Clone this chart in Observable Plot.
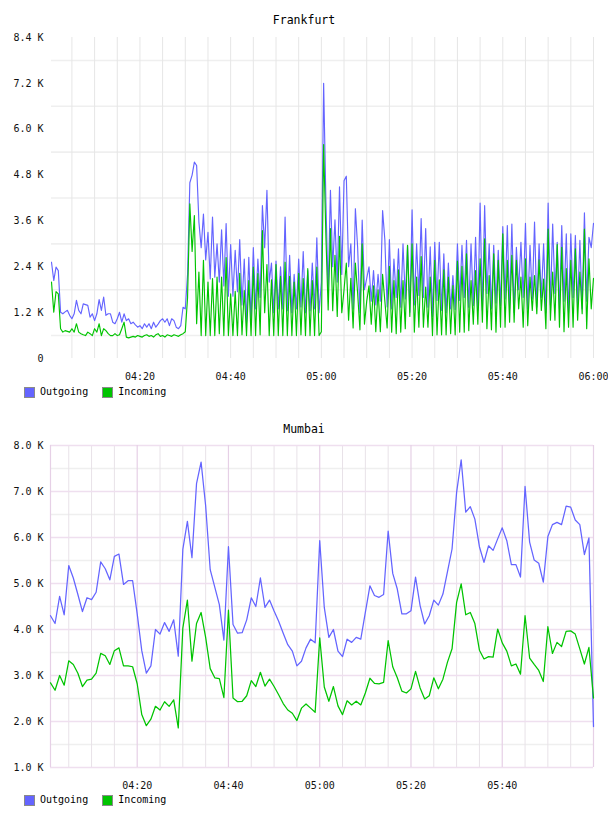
<!DOCTYPE html>
<html>
<head>
<meta charset="utf-8">
<script src="https://cdn.jsdelivr.net/npm/d3@7"></script>
<script src="https://cdn.jsdelivr.net/npm/@observablehq/plot@0.6"></script>
<style>
  html, body { margin: 0; padding: 0; background: #fff; }
  body { position: relative; width: 608px; height: 816px; overflow: hidden;
         font-family: "DejaVu Sans Mono", monospace; color: #000; }
  .title { position: absolute; left: 0; width: 608px; text-align: center;
           font-size: 11.5px; line-height: 14px; }
  .chart { position: absolute; left: 0; }
  .legend { position: absolute; left: 24px; font-size: 10px; line-height: 12px;
            display: flex; align-items: center; }
  .legend .sw { display: inline-block; width: 9px; height: 9px; border: 1px solid #8a8a8a;
                margin-right: 5px; }
  .legend .item { display: inline-flex; align-items: center; margin-right: 14px; }
</style>
</head>
<body>
<div class="title" style="top:13px">Frankfurt</div>
<div class="chart" id="frankfurt" style="top:30px"></div>
<div class="legend" style="top:386px"><span class="item"><span class="sw" style="background:#6464ff"></span>Outgoing</span><span class="item"><span class="sw" style="background:#00c400"></span>Incoming</span></div>

<div class="title" style="top:422px">Mumbai</div>
<div class="chart" id="mumbai" style="top:438px"></div>
<div class="legend" style="top:794px"><span class="item"><span class="sw" style="background:#6464ff"></span>Outgoing</span><span class="item"><span class="sw" style="background:#00c400"></span>Incoming</span></div>

<script>
// Traffic in K, sampled every 30 s from 04:00:30 (Frankfurt) and every 60 s from 04:01 (Mumbai).
const frankfurtStart = [4, 0, 30];
const frankfurtStepSeconds = 30;
const frankfurtOutgoing = [
  2.52, 2.04, 2.39, 2.30, 1.21, 1.17, 1.22, 1.26, 1.13, 1.04,
  1.17, 1.52, 1.26, 1.17, 1.43, 1.41, 1.39, 1.08, 1.17, 0.99,
  1.17, 1.54, 1.26, 1.61, 1.13, 1.17, 1.17, 0.95, 0.91, 1.04,
  1.21, 0.95, 1.17, 0.99, 1.04, 0.91, 0.95, 0.88, 0.82, 0.86,
  0.78, 0.91, 0.82, 0.91, 0.78, 0.95, 0.82, 0.90, 0.99, 1.04,
  0.95, 1.04, 0.86, 1.04, 0.99, 0.82, 0.78, 0.86, 1.34, 1.30,
  2.2, 4.6, 4.8, 5.14, 5.05, 3.57, 2.9, 3.78, 2.58, 3.3,
  2.08, 3.7, 2.13, 3.0, 2.0, 3.37, 1.9, 3.53, 1.63, 2.98,
  1.63, 2.83, 1.75, 3.11, 1.4, 2.6, 0.95, 2.65, 1.0, 2.9,
  1.3, 2.6, 1.6, 4.0, 2.9, 4.4, 2.0, 2.5, 1.2, 2.55,
  1.3, 2.4, 1.3, 3.7, 1.25, 2.7, 1.2, 2.2, 1.3, 2.6,
  1.35, 2.8, 1.2, 2.3, 1.25, 2.5, 1.3, 3.16, 1.2, 2.0,
  7.2, 4.1, 1.73, 4.4, 2.4, 3.63, 2.0, 4.49, 2.2, 4.65,
  4.77, 2.4, 3.0, 1.3, 3.92, 2.9, 1.2, 3.62, 1.8, 2.1,
  2.4, 1.5, 2.3, 1.4, 2.2, 1.5, 3.87, 3.1, 1.35, 3.11,
  1.3, 2.6, 1.6, 2.87, 1.34, 3.0, 1.56, 2.96, 1.21, 3.89,
  1.4, 3.0, 1.65, 3.66, 1.6, 3.4, 1.34, 2.92, 1.1, 3.04,
  1.52, 3.04, 1.26, 2.74, 1.2, 2.5, 1.3, 2.17, 1.28, 3.0,
  1.52, 2.96, 1.6, 3.09, 1.34, 3.0, 1.39, 3.17, 1.26, 4.07,
  1.26, 4.0, 1.7, 3.0, 1.3, 2.96, 1.45, 2.83, 1.39, 3.45,
  1.56, 3.48, 1.3, 3.52, 1.2, 2.91, 1.8, 3.04, 1.6, 3.54,
  1.3, 2.96, 1.56, 3.57, 1.35, 3.0, 1.6, 3.0, 1.2, 4.07,
  1.4, 3.52, 1.7, 3.04, 1.3, 3.48, 1.5, 3.26, 1.2, 3.26,
  1.6, 3.22, 1.4, 3.09, 1.3, 3.81, 1.5, 3.17, 2.9, 3.54
];
const frankfurtIncoming = [
  2.0, 1.21, 1.75, 1.69, 0.78, 0.69, 0.73, 0.71, 0.69, 0.78,
  0.69, 0.91, 0.69, 0.65, 0.62, 0.60, 0.69, 0.65, 0.60, 0.78,
  0.69, 0.91, 0.60, 0.78, 0.73, 0.65, 0.60, 0.60, 0.65, 0.60,
  0.62, 0.78, 0.95, 0.56, 0.54, 0.56, 0.58, 0.56, 0.60, 0.58,
  0.56, 0.60, 0.62, 0.58, 0.60, 0.56, 0.62, 0.65, 0.58, 0.60,
  0.56, 0.62, 0.60, 0.58, 0.62, 0.60, 0.58, 0.62, 0.65, 0.70,
  1.6, 4.05, 2.8, 3.74, 0.91, 2.26, 0.6, 2.57, 0.6, 2.0,
  0.6, 2.09, 0.6, 2.13, 0.65, 2.13, 0.6, 2.64, 0.6, 1.69,
  0.6, 1.76, 0.6, 2.23, 0.62, 1.78, 0.6, 2.04, 0.6, 2.39,
  0.6, 2.22, 0.62, 3.35, 1.2, 2.46, 0.6, 2.06, 0.6, 2.46,
  0.6, 2.15, 0.6, 2.52, 0.6, 2.15, 0.6, 2.0, 0.6, 2.23,
  0.62, 2.09, 0.6, 2.35, 0.6, 2.04, 0.6, 2.39, 0.6, 0.7,
  5.6, 3.2, 1.27, 3.4, 1.25, 2.7, 1.1, 3.2, 1.2, 1.8,
  2.5, 1.0, 2.1, 0.8, 2.5, 1.7, 0.75, 3.0, 0.9, 1.5,
  1.9, 0.9, 1.9, 0.7, 1.8, 0.7, 2.2, 1.5, 0.8, 2.41,
  0.69, 2.04, 0.65, 2.32, 0.69, 2.04, 0.78, 2.96, 1.1, 3.0,
  0.69, 2.13, 0.82, 2.67, 0.82, 1.87, 0.82, 2.13, 0.6, 2.57,
  0.62, 2.06, 0.62, 2.32, 0.62, 2.13, 0.65, 1.91, 0.62, 2.55,
  0.69, 2.41, 0.69, 2.74, 0.73, 2.04, 0.9, 2.3, 0.9, 2.61,
  0.95, 3.13, 0.78, 2.17, 0.75, 2.74, 0.69, 2.57, 0.82, 3.26,
  0.82, 2.57, 0.95, 2.7, 0.95, 2.57, 1.3, 2.13, 0.82, 2.61,
  0.86, 2.13, 1.26, 2.17, 1.17, 2.58, 1.26, 2.08, 0.78, 3.39,
  1.0, 2.26, 1.0, 2.98, 0.82, 2.91, 0.7, 2.35, 0.82, 2.57,
  0.82, 2.87, 1.0, 2.26, 1.17, 3.39, 0.78, 2.61, 1.3, 2.1
];

const mumbaiStart = [4, 1, 0];
const mumbaiStepSeconds = 60;
const mumbaiOutgoing = [
  4.30, 4.13, 4.72, 4.32, 5.39, 5.12, 4.76, 4.39, 4.69, 4.65,
  4.81, 5.47, 5.32, 5.08, 5.59, 5.64, 4.98, 5.06, 5.06, 4.34,
  3.54, 3.05, 3.21, 4.00, 3.90, 4.15, 3.96, 4.21, 3.42, 5.74,
  6.35, 5.56, 7.17, 7.64, 6.69, 5.30, 4.92, 4.54, 3.77, 5.80,
  4.11, 3.92, 3.93, 4.21, 4.69, 4.50, 5.12, 4.48, 4.64, 4.40,
  4.18, 3.92, 3.67, 3.53, 3.21, 3.31, 3.60, 3.79, 3.71, 5.93,
  4.48, 3.83, 4.00, 3.53, 3.41, 3.79, 3.72, 3.83, 3.79, 4.37,
  4.95, 4.74, 4.70, 4.76, 6.14, 5.22, 4.88, 4.34, 4.34, 4.41,
  5.14, 4.52, 4.12, 4.30, 4.64, 4.53, 4.77, 5.26, 5.75, 6.98,
  7.69, 6.55, 6.67, 6.40, 5.80, 5.46, 5.82, 5.72, 5.97, 6.21,
  5.93, 5.41, 5.41, 5.14, 7.11, 5.90, 5.51, 5.44, 5.03, 6.02,
  6.28, 6.33, 6.28, 6.68, 6.66, 6.38, 6.28, 5.63, 5.99, 1.89
];
const mumbaiIncoming = [
  2.84, 2.68, 3.00, 2.79, 3.32, 3.24, 3.05, 2.76, 2.90, 2.92,
  3.05, 3.48, 3.43, 3.24, 3.54, 3.60, 3.21, 3.21, 3.19, 2.82,
  2.15, 1.91, 2.05, 2.33, 2.25, 2.43, 2.33, 2.47, 1.86, 4.03,
  4.64, 3.31, 4.13, 4.37, 3.83, 3.15, 2.95, 2.93, 2.52, 4.42,
  2.51, 2.43, 2.44, 2.56, 2.89, 2.76, 3.07, 2.77, 2.92, 2.76,
  2.58, 2.39, 2.25, 2.18, 2.02, 2.29, 2.38, 2.29, 2.20, 3.82,
  2.75, 2.44, 2.76, 2.34, 2.15, 2.45, 2.36, 2.44, 2.36, 2.62,
  2.94, 2.83, 2.82, 2.85, 3.76, 3.19, 2.95, 2.66, 2.62, 2.71,
  3.09, 2.73, 2.49, 2.56, 2.95, 2.71, 2.92, 3.29, 3.58, 4.59,
  4.99, 4.32, 4.37, 4.13, 3.55, 3.36, 3.41, 3.40, 4.01, 3.71,
  3.53, 3.21, 3.25, 3.03, 4.30, 3.38, 3.24, 3.11, 2.87, 4.06,
  3.48, 3.72, 3.63, 3.96, 3.97, 3.90, 3.58, 3.25, 3.61, 2.51
];

const endTime = [6, 0, 0];
const frankfurtTimeLabels = ["04:20", "04:40", "05:00", "05:20", "05:40", "06:00"];
const mumbaiTimeLabels = ["04:20", "04:40", "05:00", "05:20", "05:40"];
const frankfurtYTicks = [0, 1.2, 2.4, 3.6, 4.8, 6.0, 7.2, 8.4];
const frankfurtYGrid = [0.6, 1.8, 3.0, 4.2, 5.4, 6.6, 7.8];
const mumbaiYTicks = [1, 2, 3, 4, 5, 6, 7, 8];
const mumbaiYMinor = [1.5, 2.5, 3.5, 4.5, 5.5, 6.5, 7.5];

const outColor = "#6464ff";
const inColor = "#00c400";

const day = (h, m, s) => new Date(2020, 0, 1, h, m, s);
const parseHM = (s) => { const [h, m] = s.split(":").map(Number); return day(h, m, 0); };
const series = (start, step, values) =>
  values.map((v, i) => ({ t: new Date(day(...start).getTime() + i * step * 1000), v }));

const fmtTime = d3.timeFormat("%H:%M");
const fmtK = (d) => d === 0 ? "0" : d.toFixed(1) + " K";

const fiveMinutes = (from, to) => d3.timeMinute.every(5).range(from, new Date(to.getTime() + 1));
const twentyMinutes = (from, to) => d3.timeMinute.every(20).range(from, new Date(to.getTime() + 1));

// Frankfurt
{
  const x0 = day(...frankfurtStart), x1 = day(...endTime);
  const out = series(frankfurtStart, frankfurtStepSeconds, frankfurtOutgoing);
  const inc = series(frankfurtStart, frankfurtStepSeconds, frankfurtIncoming);
  const chart = Plot.plot({
    width: 608, height: 353,
    marginTop: 7, marginBottom: 25, marginLeft: 51, marginRight: 15,
    style: { fontFamily: "DejaVu Sans Mono, monospace", fontSize: "10px", color: "#111", background: "#fff", overflow: "visible" },
    x: { type: "time", domain: [x0, x1], ticks: frankfurtTimeLabels.map(parseHM), tickFormat: fmtTime,
         tickSize: 0, tickPadding: 14, label: null },
    y: { domain: [0, 8.4], ticks: frankfurtYTicks, tickFormat: fmtK, tickSize: 0, tickPadding: 8, label: null },
    marks: [
      Plot.ruleY(frankfurtYGrid, { stroke: "#efefef", strokeWidth: 1.6 }),
      Plot.ruleX(fiveMinutes(d3.timeMinute.ceil(x0), x1), { stroke: "#e6e6e6", strokeWidth: 1 }),
      Plot.line(out, { x: "t", y: "v", stroke: outColor, strokeWidth: 1.15 }),
      Plot.line(inc, { x: "t", y: "v", stroke: inColor, strokeWidth: 1.15 })
    ]
  });
  document.getElementById("frankfurt").append(chart);
}

// Mumbai
{
  const x0 = day(...mumbaiStart), x1 = day(...endTime);
  const out = series(mumbaiStart, mumbaiStepSeconds, mumbaiOutgoing);
  const inc = series(mumbaiStart, mumbaiStepSeconds, mumbaiIncoming);
  const fives = fiveMinutes(d3.timeMinute.ceil(x0), x1);
  const twenties = twentyMinutes(day(4, 20, 0), x1);
  const minorX = fives.filter((d) => d.getMinutes() % 20 !== 0);
  const chart = Plot.plot({
    width: 608, height: 354,
    marginTop: 7, marginBottom: 25, marginLeft: 50, marginRight: 15,
    style: { fontFamily: "DejaVu Sans Mono, monospace", fontSize: "10px", color: "#111", background: "#fff", overflow: "visible" },
    x: { type: "time", domain: [x0, x1], ticks: mumbaiTimeLabels.map(parseHM), tickFormat: fmtTime,
         tickSize: 0, tickPadding: 14, label: null },
    y: { domain: [1, 8], ticks: mumbaiYTicks, tickFormat: fmtK, tickSize: 0, tickPadding: 7, label: null },
    marks: [
      Plot.ruleY(mumbaiYMinor, { stroke: "#efefef", strokeWidth: 1.6 }),
      Plot.ruleX(minorX, { stroke: "#e8e2e8", strokeWidth: 1 }),
      Plot.ruleY(mumbaiYTicks, { stroke: "#efdfef", strokeWidth: 1.6 }),
      Plot.ruleX([x0, ...twenties], { stroke: "#e6d0e6", strokeWidth: 1.2 }),
      Plot.line(out, { x: "t", y: "v", stroke: outColor, strokeWidth: 1.25 }),
      Plot.line(inc, { x: "t", y: "v", stroke: inColor, strokeWidth: 1.25 })
    ]
  });
  document.getElementById("mumbai").append(chart);
}
</script>
</body>
</html>
